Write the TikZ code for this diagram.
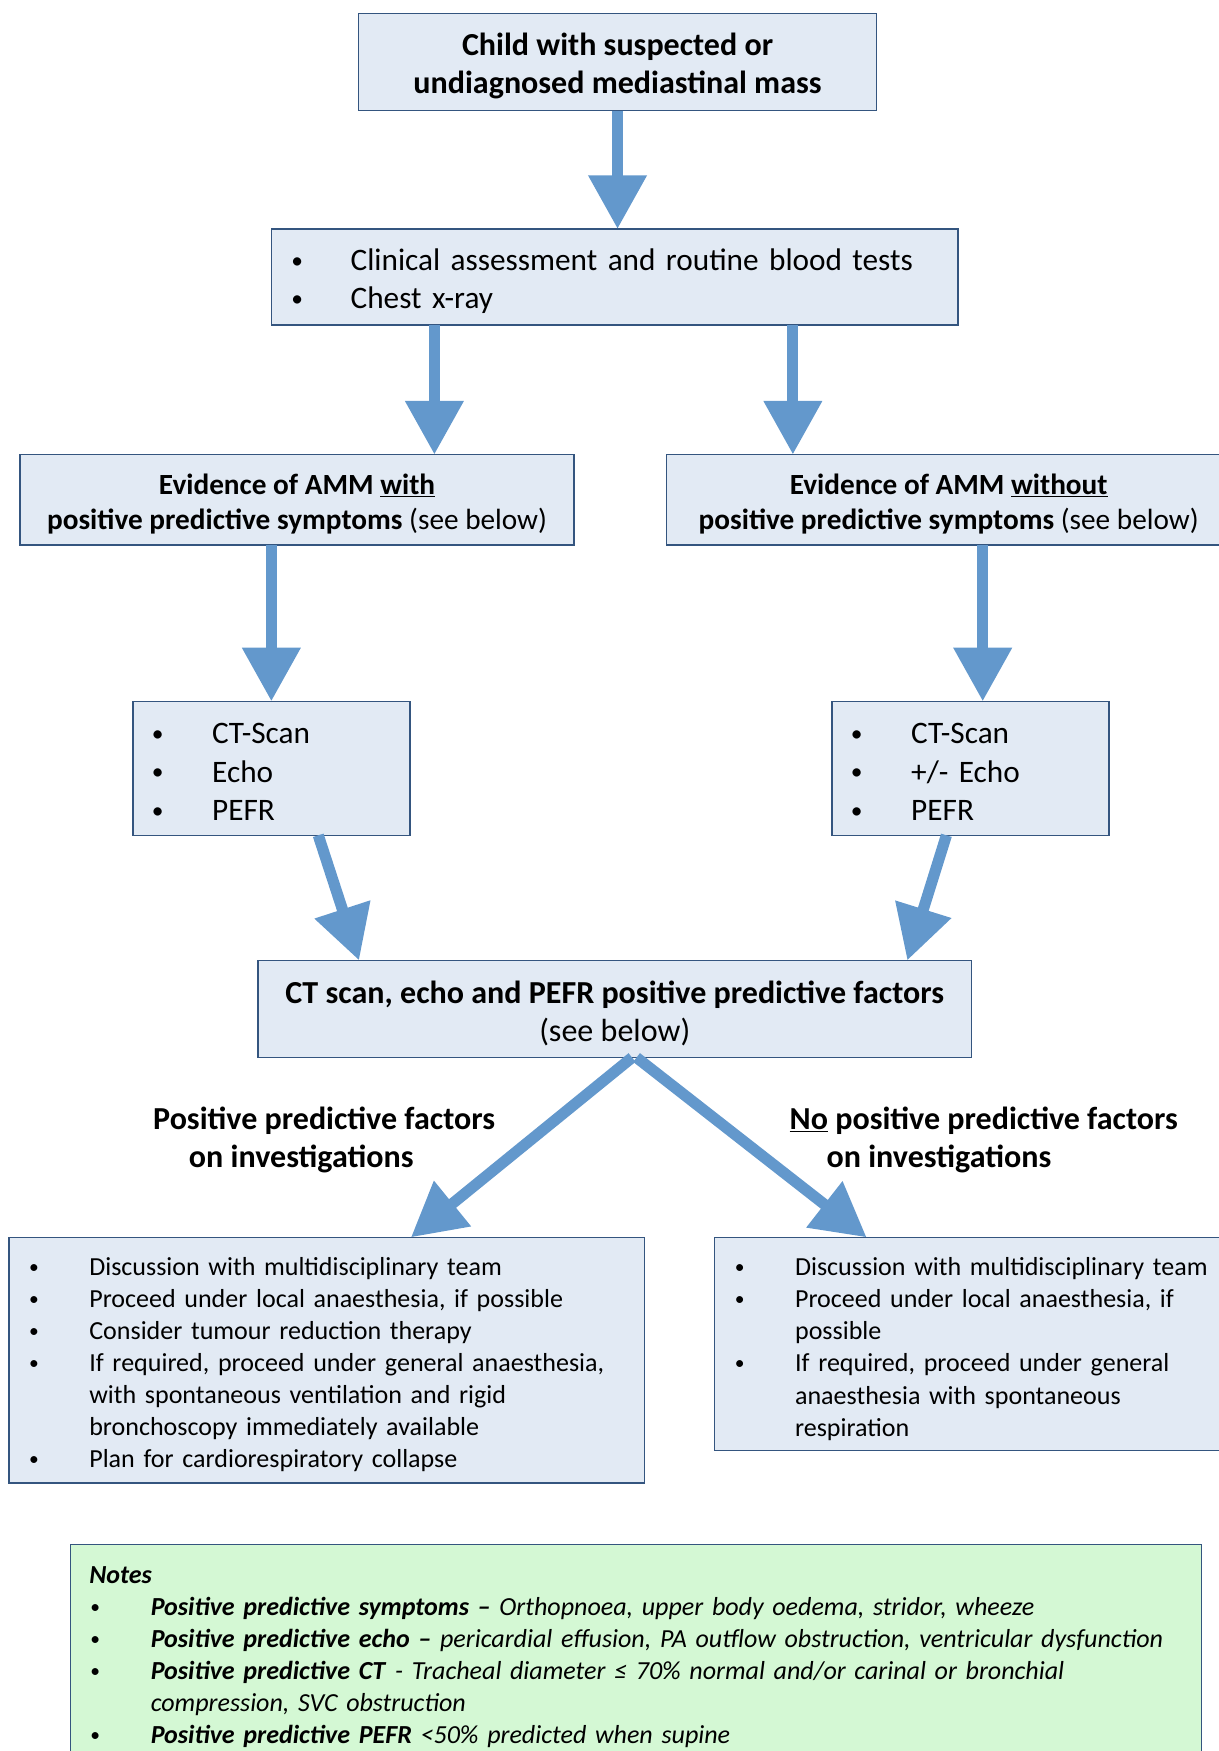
\documentclass[tikz,border=0pt]{standalone}
\usepackage{fontspec}
\usepackage{graphicx}
\setmainfont{Carlito}
\usetikzlibrary{arrows.meta}
\definecolor{boxfill}{HTML}{E2EAF4}
\definecolor{boxline}{HTML}{34557F}
\definecolor{arrowcol}{HTML}{6398CC}
\definecolor{notefill}{HTML}{D4F8D4}
\newcommand\fA{\fontsize{28.7}{34}\selectfont}
\newcommand\fAr{\fontsize{28.0}{34}\selectfont}
\newcommand\fAq{\fontsize{28.0}{34.5}\selectfont}
\newcommand\fB{\fontsize{26.2}{31}\selectfont}
\newcommand\fC{\fontsize{23.3}{28.7}\selectfont}
\newcommand\fN{\fontsize{23.3}{28.8}\selectfont}
\newcommand\bul{\raisebox{0.08em}{\scalebox{0.75}{•}}}
\newcommand\itmA{\makebox[54pt][l]{\hspace{1pt}\bul}}
\newcommand\itmC{\makebox[55pt][l]{\hspace{1pt}\bul}}
\newcommand\cntC{\hspace*{55pt}}
\begin{document}
\begin{tikzpicture}[x=1pt,y=-1pt,
  box/.style={draw=boxline, line width=1.3pt, fill=boxfill, inner sep=0pt, outer sep=0pt},
  txt/.style={inner sep=0pt, outer sep=0pt},
  arr/.style={draw=arrowcol, line width=10pt, -{Triangle[length=48pt,width=50pt]}},
  lbl/.style={font=\fA\bfseries, align=left, inner sep=0pt, anchor=west}]
\useasboundingbox (0,0) rectangle (1091,1568);

% boxes
\node[box, minimum width=464pt, minimum height=87pt] (b1) at (553,55.5) {};
\node[box, minimum width=615pt, minimum height=86pt] (b2) at (550.5,248) {};
\node[box, minimum width=496pt, minimum height=81pt] (b3L) at (266,447.5) {};
\node[box, minimum width=505pt, minimum height=81pt] (b3R) at (849.5,447.5) {};
\node[box, minimum width=248pt, minimum height=120pt] (b4L) at (243,688) {};
\node[box, minimum width=248pt, minimum height=120pt] (b4R) at (869,688) {};
\node[box, minimum width=639pt, minimum height=87pt] (b5) at (550.5,903.5) {};
\node[box, minimum width=569pt, minimum height=220pt] (b6L) at (292.5,1218) {};
\node[box, minimum width=484pt, minimum height=191pt] (b6R) at (882,1203.5) {};
\node[box, fill=notefill, minimum width=1013pt, minimum height=220pt, anchor=north west] (nb) at (63,1383) {};

% texts
\node[txt, align=center, font=\fA\bfseries] (t1) at ([yshift=-4pt]b1.center)
  {Child with suspected or\\undiagnosed mediastinal mass};
\node[txt, text width=581pt, align=left, font=\fAr] (t2) at ([yshift=-4pt]b2.center)
  {\itmA Clinical assessment and routine blood tests\\\itmA Chest x-ray};
\node[txt, align=center, font=\fB] (t3L) at ([yshift=-4pt]b3L.center)
  {\textbf{Evidence of AMM \underline{with}}\\\textbf{positive predictive symptoms} (see below)};
\node[txt, align=center, font=\fB] (t3R) at ([yshift=-4pt]b3R.center)
  {\textbf{Evidence of AMM \underline{without}}\\\textbf{positive predictive symptoms} (see below)};
\node[txt, text width=216pt, align=left, font=\fAq] (t4L) at ([yshift=-3.5pt]b4L.center)
  {\itmC CT-Scan\\\itmC Echo\\\itmC PEFR};
\node[txt, text width=216pt, align=left, font=\fAq] (t4R) at ([yshift=-3.5pt]b4R.center)
  {\itmC CT-Scan\\\itmC +/- Echo\\\itmC PEFR};
\node[txt, align=center, font=\fA] (t5) at ([yshift=-4pt]b5.center)
  {\textbf{CT scan, echo and PEFR positive predictive factors}\\(see below)};

\node[lbl] (l1) at (137,1021) {Positive predictive factors\\\hspace*{32pt}on investigations};
\node[lbl] (l2) at (707,1021) {\underline{No} positive predictive factors\\\hspace*{33pt}on investigations};

\node[txt, text width=535pt, align=left, font=\fC] (t6L) at ([yshift=-4pt]b6L.center)
  {\itmC Discussion with multidisciplinary team\\
   \itmC Proceed under local anaesthesia, if possible\\
   \itmC Consider tumour reduction therapy\\
   \itmC If required, proceed under general anaesthesia,\\
   \cntC with spontaneous ventilation and rigid\\
   \cntC bronchoscopy immediately available\\
   \itmC Plan for cardiorespiratory collapse};
\node[txt, text width=450pt, align=left, font=\fC] (t6R) at ([yshift=-4.5pt]b6R.center)
  {\itmC Discussion with multidisciplinary team\\
   \itmC Proceed under local anaesthesia, if\\
   \cntC possible\\
   \itmC If required, proceed under general\\
   \cntC anaesthesia with spontaneous\\
   \cntC respiration};

\node[txt, anchor=north west, align=left, font=\fN, text width=1000pt] (nt) at ([xshift=17pt,yshift=-19.5pt]nb.north west)
  {\textbf{\textit{Notes}}\\
   \itmC\textbf{\textit{Positive predictive symptoms –}} \textit{Orthopnoea, upper body oedema, stridor, wheeze}\\
   \itmC\textbf{\textit{Positive predictive echo –}} \textit{pericardial effusion, PA outflow obstruction, ventricular dysfunction}\\
   \itmC\textbf{\textit{Positive predictive CT}} \textit{- Tracheal diameter ≤ 70\% normal and/or carinal or bronchial}\\
   \cntC\textit{compression, SVC obstruction}\\
   \itmC\textbf{\textit{Positive predictive PEFR}} \textit{<50\% predicted when supine}};

% arrows
\draw[arr] (b1.south) -- (b1.south |- b2.north);
\coordinate (p2L) at ([xshift=-161.5pt]b2.south);
\coordinate (p2R) at ([xshift=159.5pt]b2.south);
\draw[arr] (p2L) -- (p2L |- b3L.north);
\draw[arr] (p2R) -- (p2R |- b3R.north);
\coordinate (p3L) at (b4L.north |- b3L.south);
\draw[arr] (p3L) -- (b4L.north);
\coordinate (q3R) at ([xshift=11pt]b4R.north);
\draw[arr] (q3R |- b3R.south) -- (q3R);
\draw[arr] ([xshift=42pt]b4L.south) -- ([xshift=-229pt]b5.north);
\draw[arr] ([xshift=-21.5pt]b4R.south) -- ([xshift=262pt]b5.north);
\draw[arr] ([xshift=15.5pt]b5.south) -- ([xshift=75.5pt]b6L.north);
\draw[arr] ([xshift=19.5pt]b5.south) -- ([xshift=-106pt]b6R.north);
\end{tikzpicture}
\end{document}
